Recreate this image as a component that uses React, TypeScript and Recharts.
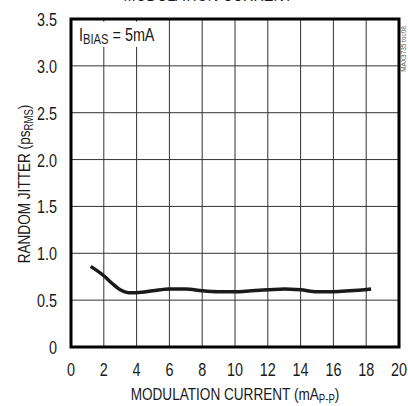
import {
  LineChart,
  Line,
  XAxis,
  YAxis,
  CartesianGrid,
  ReferenceArea,
} from "recharts";

const current = [1.2, 2, 2.5, 3, 3.5, 4, 5, 6, 7, 8, 9, 10, 11, 12, 13, 14, 15, 16, 17, 18.3];
const jitter = [0.86, 0.76, 0.68, 0.61, 0.58, 0.58, 0.6, 0.62, 0.62, 0.6, 0.59, 0.59, 0.6, 0.61, 0.62, 0.61, 0.59, 0.59, 0.6, 0.62];

const xTicks = [0, 2, 4, 6, 8, 10, 12, 14, 16, 18, 20];
const yTicks = [0, 0.5, 1, 1.5, 2, 2.5, 3, 3.5];
const yTickLabels = ["0", "0.5", "1.0", "1.5", "2.0", "2.5", "3.0", "3.5"];

// Liberation Sans squeezed horizontally stands in for Helvetica Condensed
const FONT = "'Liberation Sans', Arial, sans-serif";
const SQUEEZE = 0.8;
const INK = "#1a1a1a";

const data = current.map((c, i) => ({ current: c, jitter: jitter[i] }));

function Narrow({ x, y, rotate = 0, anchor = "start", size = 18, fill = INK, children }: any) {
  return (
    <text
      transform={`translate(${x},${y}) rotate(${rotate}) scale(${SQUEEZE},1)`}
      textAnchor={anchor}
      fontSize={size}
      fill={fill}
      fontFamily={FONT}
    >
      {children}
    </text>
  );
}

function XTick({ x, y, payload }: any) {
  return (
    <Narrow x={x} y={y + 29} anchor="middle">
      {payload.value}
    </Narrow>
  );
}

function YTick({ x, y, payload }: any) {
  const i = yTicks.indexOf(payload.value);
  return (
    <Narrow x={x - 14} y={y + 7} anchor="end">
      {yTickLabels[i]}
    </Narrow>
  );
}

function BiasLabel({ viewBox }: any) {
  return (
    <Narrow x={viewBox.x + 8} y={viewBox.y + 19}>
      I
      <tspan fontSize={14} dy={3}>BIAS</tspan>
      <tspan dy={-3}> = 5mA</tspan>
    </Narrow>
  );
}

export default function App() {
  return (
    <div style={{ position: "absolute", left: 0, top: 0, width: 408, height: 406, background: "#fff" }}>
      <svg width={408} height={406} style={{ position: "absolute", left: 0, top: 0 }}>
        {/* title sits mostly above the crop, as in the source image */}
        <Narrow x={208} y={0.5} anchor="middle">
          MODULATION CURRENT
        </Narrow>
        <Narrow x={30} y={184} rotate={-90} anchor="middle" size={17}>
          RANDOM JITTER (ps
          <tspan fontSize={12} dy={3}>RMS</tspan>
          <tspan dy={-3}>)</tspan>
        </Narrow>
        <Narrow x={235} y={400} anchor="middle" size={17}>
          MODULATION CURRENT (mA
          <tspan fontSize={12} dy={3}>P-P</tspan>
          <tspan dy={-3}>)</tspan>
        </Narrow>
        <Narrow x={406} y={49} rotate={-90} anchor="middle" size={8} fill="#555">
          MAX3735 toc08
        </Narrow>
      </svg>
      <LineChart
        width={408}
        height={406}
        data={data}
        margin={{ top: 19, right: 9, bottom: 0, left: 0 }}
      >
        <CartesianGrid stroke="#333" strokeWidth={1} horizontalValues={yTicks} verticalValues={xTicks} />
        <XAxis
          dataKey="current"
          type="number"
          domain={[0, 20]}
          ticks={xTicks}
          axisLine={false}
          tickLine={false}
          tickSize={0}
          tickMargin={0}
          height={59}
          tick={<XTick />}
          interval={0}
        />
        <YAxis
          type="number"
          domain={[0, 3.5]}
          ticks={yTicks}
          axisLine={false}
          tickLine={false}
          tickSize={0}
          tickMargin={0}
          width={71}
          tick={<YTick />}
          interval={0}
        />
        <ReferenceArea
          x1={0}
          x2={5.2}
          y1={3.2}
          y2={3.47}
          fill="#fff"
          fillOpacity={1}
          stroke="none"
          label={<BiasLabel />}
        />
        <Line
          dataKey="jitter"
          type="monotone"
          stroke={INK}
          strokeWidth={3.5}
          dot={false}
          isAnimationActive={false}
        />
        <ReferenceArea
          x1={0}
          x2={20}
          y1={0}
          y2={3.5}
          fill="none"
          stroke="#000"
          strokeWidth={3}
        />
      </LineChart>
    </div>
  );
}
